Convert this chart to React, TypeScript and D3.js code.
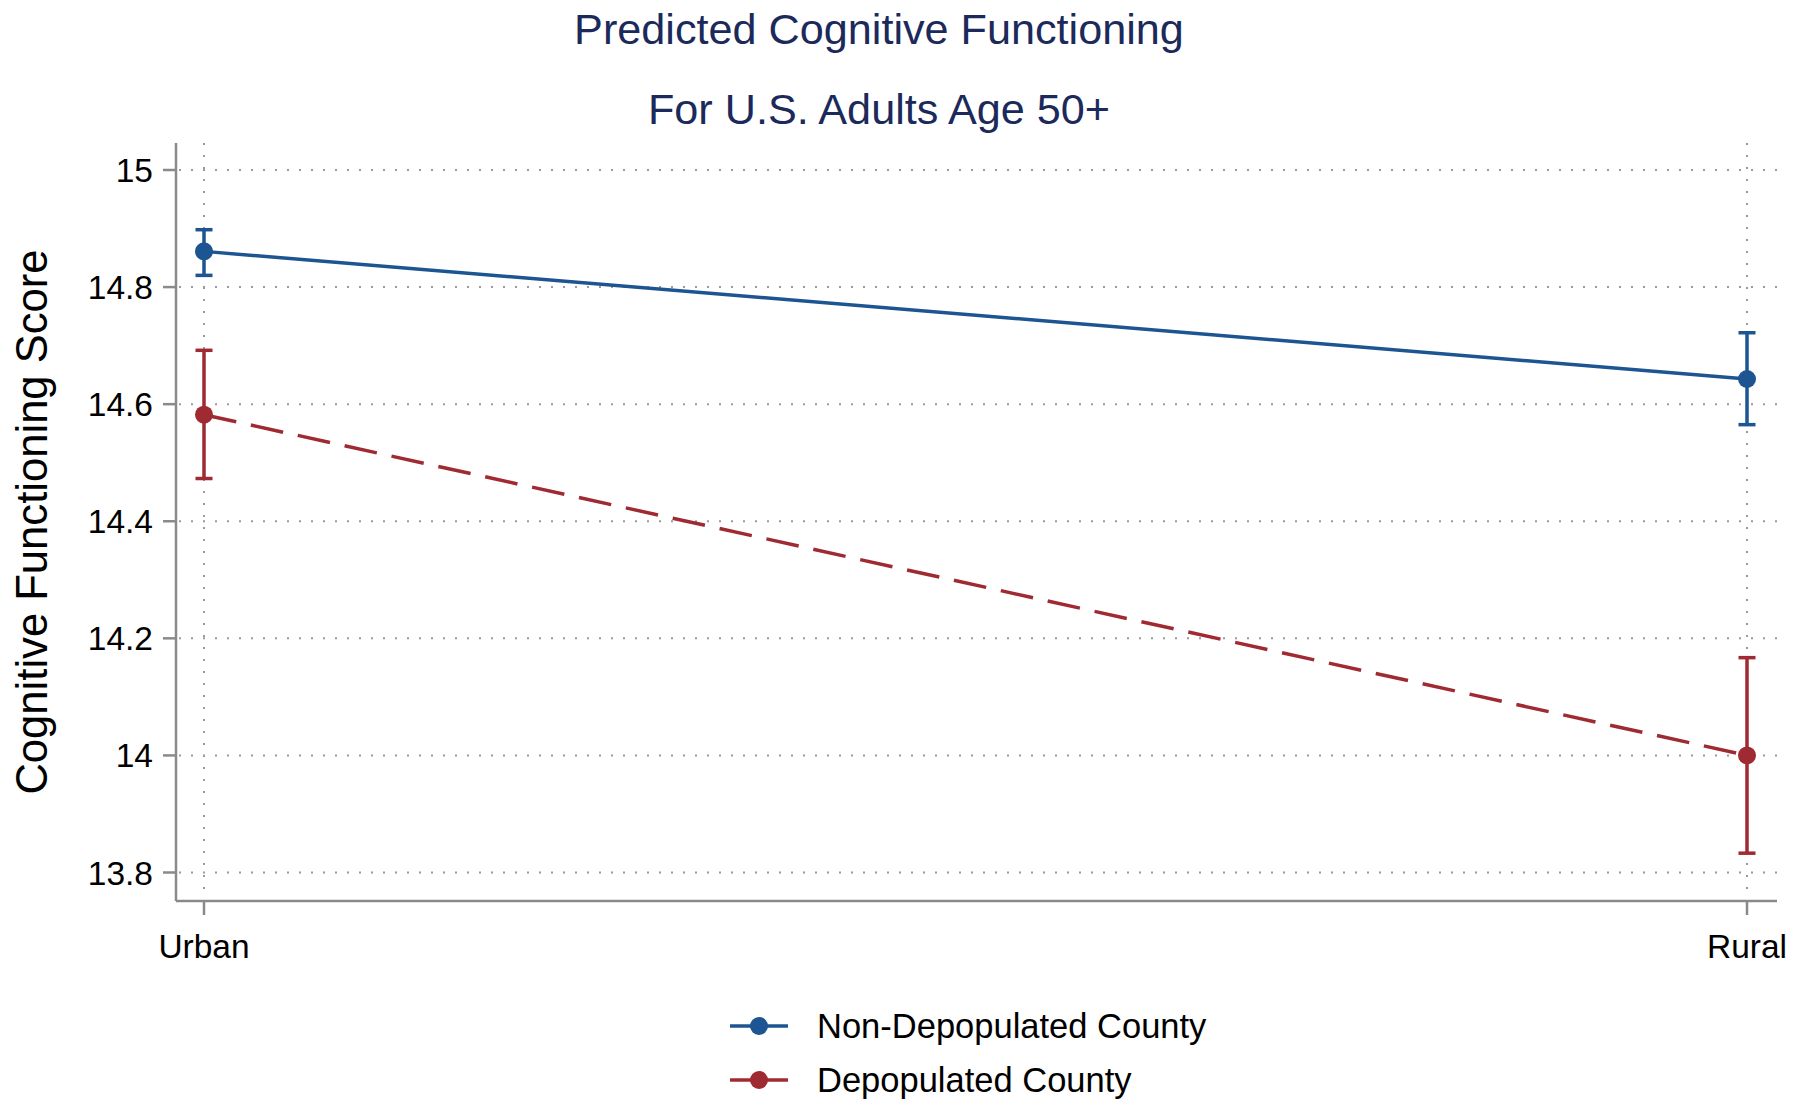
import React from "react";
import * as d3 from "d3";

const categories = ["Urban", "Rural"];
const yTicks = [13.8, 14, 14.2, 14.4, 14.6, 14.8, 15];

const nonDepMean = [14.861, 14.643];
const nonDepLow = [14.82, 14.565];
const nonDepHigh = [14.898, 14.722];

const depMean = [14.582, 14.0];
const depLow = [14.473, 13.833];
const depHigh = [14.692, 14.167];

const seriesNames = ["Non-Depopulated County", "Depopulated County"];

const BLUE = "#1c5591";
const RED = "#9f2a32";
const GRID = "#9a9a9a";
const AXIS = "#8a8a8a";
const FONT = "'Liberation Sans', Arial, Helvetica, sans-serif";

const App = () => {
  const x = d3.scalePoint<string>().domain(categories).range([204, 1747]);
  const y = d3.scaleLinear().domain([13.8, 15]).range([872.5, 170]);

  const plotLeft = 176;
  const plotRight = 1777;
  const plotTop = 143;
  const plotBottom = 901;

  const line = d3
    .line<number>()
    .x((d, i) => x(categories[i]) as number)
    .y((d) => y(d));

  const series = [
    { name: seriesNames[0], mean: nonDepMean, low: nonDepLow, high: nonDepHigh, color: BLUE, dash: null },
    { name: seriesNames[1], mean: depMean, low: depLow, high: depHigh, color: RED, dash: "33 15" },
  ];

  return (
    <svg
      width="1800"
      height="1106"
      style={{ position: "absolute", left: 0, top: 0, background: "#fff" }}
      fontFamily={FONT}
    >
      <rect width="1800" height="1106" fill="#fff" />

      {/* titles */}
      <text x="879" y="44" textAnchor="middle" fontSize="43.2" fill="#1b2a5a">
        Predicted Cognitive Functioning
      </text>
      <text x="879" y="124" textAnchor="middle" fontSize="43.2" fill="#1b2a5a">
        For U.S. Adults Age 50+
      </text>

      {/* grid */}
      {yTicks.map((t) => (
        <line
          key={"gy" + t}
          x1={plotLeft + 3}
          x2={plotRight}
          y1={y(t)}
          y2={y(t)}
          stroke={GRID}
          strokeWidth="2"
          strokeDasharray="2 10"
        />
      ))}
      {categories.map((c) => (
        <line
          key={"gx" + c}
          x1={x(c)}
          x2={x(c)}
          y1={plotTop}
          y2={plotBottom - 2}
          stroke={GRID}
          strokeWidth="2"
          strokeDasharray="2 10"
        />
      ))}

      {/* axes */}
      <line x1={plotLeft} x2={plotLeft} y1={plotTop} y2={plotBottom} stroke={AXIS} strokeWidth="2.5" />
      <line x1={plotLeft} x2={plotRight} y1={plotBottom} y2={plotBottom} stroke={AXIS} strokeWidth="2.5" />
      {yTicks.map((t) => (
        <g key={"ty" + t}>
          <line x1={plotLeft - 13} x2={plotLeft} y1={y(t)} y2={y(t)} stroke={AXIS} strokeWidth="2.5" />
          <text
            x={plotLeft - 23}
            y={y(t)}
            dy="0.36em"
            textAnchor="end"
            fontSize="33.5"
            fill="#000"
          >
            {d3.format("~g")(t)}
          </text>
        </g>
      ))}
      {categories.map((c) => (
        <g key={"tx" + c}>
          <line x1={x(c)} x2={x(c)} y1={plotBottom} y2={plotBottom + 14} stroke={AXIS} strokeWidth="2.5" />
          <text x={x(c)} y={plotBottom + 57} textAnchor="middle" fontSize="33.5" fill="#000">
            {c}
          </text>
        </g>
      ))}
      <text
        transform="translate(31,522) rotate(-90)"
        textAnchor="middle"
        dy="0.36em"
        fontSize="43.6"
        fill="#000"
      >
        Cognitive Functioning Score
      </text>

      {/* series */}
      {series.map((s) => (
        <g key={s.name}>
          <path
            d={line(s.mean) as string}
            fill="none"
            stroke={s.color}
            strokeWidth="3.5"
            strokeDasharray={s.dash ?? undefined}
          />
          {categories.map((c, i) => (
            <g key={c}>
              <line x1={x(c)} x2={x(c)} y1={y(s.low[i])} y2={y(s.high[i])} stroke={s.color} strokeWidth="3.5" />
              <line
                x1={(x(c) as number) - 8.5}
                x2={(x(c) as number) + 8.5}
                y1={y(s.low[i])}
                y2={y(s.low[i])}
                stroke={s.color}
                strokeWidth="3.5"
              />
              <line
                x1={(x(c) as number) - 8.5}
                x2={(x(c) as number) + 8.5}
                y1={y(s.high[i])}
                y2={y(s.high[i])}
                stroke={s.color}
                strokeWidth="3.5"
              />
              <circle cx={x(c)} cy={y(s.mean[i])} r="9" fill={s.color} />
            </g>
          ))}
        </g>
      ))}

      {/* legend */}
      {series.map((s, i) => (
        <g key={"lg" + s.name} transform={`translate(0,${1026 + i * 54})`}>
          <line x1="730" x2="788" y1="0" y2="0" stroke={s.color} strokeWidth="3.5" />
          <circle cx="759" cy="0" r="9" fill={s.color} />
          <text x="817" y="0" dy="0.36em" fontSize="34.5" fill="#000">
            {s.name}
          </text>
        </g>
      ))}
    </svg>
  );
};

export default App;
